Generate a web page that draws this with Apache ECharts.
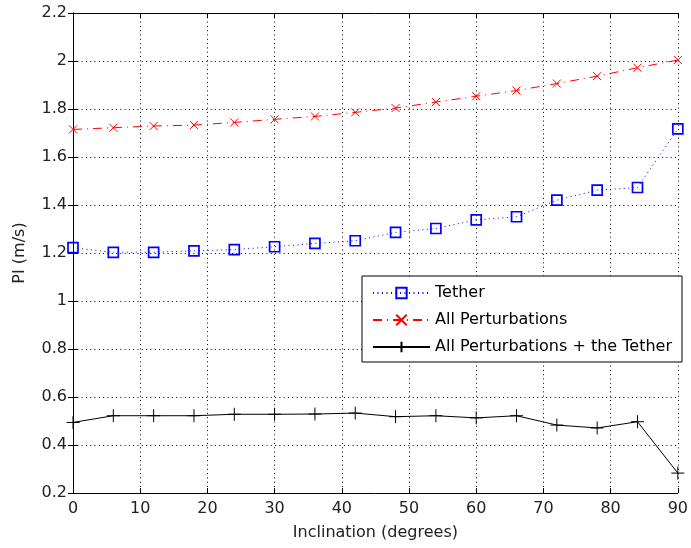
<!DOCTYPE html>
<html>
<head>
<meta charset="utf-8">
<script src="https://cdn.jsdelivr.net/npm/echarts@6/dist/echarts.min.js"></script>
<style>html,body{margin:0;padding:0;background:#fff;}#c{width:691px;height:548px;}</style>
</head>
<body>
<div id="c"></div>
<script>
var inclination = [0, 6, 12, 18, 24, 30, 36, 42, 48, 54, 60, 66, 72, 78, 84, 90];
var tether = [1.222, 1.203, 1.203, 1.209, 1.214, 1.226, 1.240, 1.251, 1.286, 1.302, 1.338, 1.351, 1.420, 1.462, 1.473, 1.717];
var allPert = [1.715, 1.722, 1.729, 1.733, 1.744, 1.757, 1.769, 1.786, 1.804, 1.829, 1.853, 1.877, 1.906, 1.937, 1.972, 2.004];
var allPertTether = [0.494, 0.522, 0.522, 0.522, 0.528, 0.528, 0.529, 0.533, 0.518, 0.522, 0.513, 0.522, 0.483, 0.471, 0.497, 0.283];
var seriesNames = ['Tether', 'All Perturbations', 'All Perturbations + the Tether'];

function pairs(ys) { return inclination.map(function (x, i) { return [x, ys[i]]; }); }

var font = 'DejaVu Sans, sans-serif';
var fs = 16;
var tickColor = '#222';
var chart = echarts.init(document.getElementById('c'), null, { renderer: 'canvas' });
var xCommon = {
  type: 'value', min: 0, max: 90, interval: 10,
  axisLine: { show: true, lineStyle: { color: '#000', width: 1 } },
  axisTick: { show: true, inside: true, length: 5, lineStyle: { color: '#000' } }
};
var yCommon = {
  type: 'value', min: 0.2, max: 2.2, interval: 0.2,
  axisLine: { show: true, lineStyle: { color: '#000', width: 1 } },
  axisTick: { show: true, inside: true, length: 5, lineStyle: { color: '#000' } }
};
var option = {
  backgroundColor: '#fff',
  animation: false,
  grid: { left: 73, right: 9, top: 13, bottom: 55, containLabel: false },
  legend: {
    orient: 'vertical', right: 9, top: 276,
    backgroundColor: '#fff',
    borderColor: '#000', borderWidth: 1, borderRadius: 0,
    padding: [9, 10, 7, 10],
    itemWidth: 57, itemHeight: 13, itemGap: 11,
    textStyle: { fontFamily: font, fontSize: fs, color: '#000' },
    data: seriesNames
  },
  xAxis: [
    Object.assign({}, xCommon, {
      position: 'bottom',
      name: 'Inclination (degrees)', nameLocation: 'middle', nameGap: 32,
      nameTextStyle: { fontFamily: font, fontSize: fs, color: tickColor },
      axisLabel: { margin: 8, fontFamily: font, fontSize: fs, color: tickColor },
      splitLine: { show: true, lineStyle: { color: '#000', type: [1, 3.3], width: 1 } }
    }),
    Object.assign({}, xCommon, {
      position: 'top', axisLabel: { show: false }, splitLine: { show: false }
    })
  ],
  yAxis: [
    Object.assign({}, yCommon, {
      position: 'left',
      name: 'PI (m/s)', nameLocation: 'middle', nameGap: 45, nameRotate: 90,
      nameTextStyle: { fontFamily: font, fontSize: fs, color: tickColor },
      axisLabel: {
        margin: 6, fontFamily: font, fontSize: fs, color: tickColor,
        formatter: function (v) { return String(parseFloat(v.toFixed(1))); }
      },
      splitLine: { show: true, lineStyle: { color: '#000', type: [1, 3.3], width: 1 } }
    }),
    Object.assign({}, yCommon, {
      position: 'right', axisLabel: { show: false }, splitLine: { show: false }
    })
  ],
  series: [
    {
      name: seriesNames[0], type: 'line', data: pairs(tether),
      symbol: 'rect', symbolSize: 10, showAllSymbol: true,
      itemStyle: { color: 'rgba(255,255,255,0)', borderColor: '#0000ff', borderWidth: 1.7 },
      lineStyle: { color: '#0000ff', width: 1, type: [1, 3.5] },
      z: 3
    },
    {
      name: seriesNames[1], type: 'line', data: pairs(allPert),
      symbol: 'path://M0,0L10,10M10,0L0,10', symbolSize: 8,
      itemStyle: { color: 'none', borderColor: '#ff0000', borderWidth: 1 },
      lineStyle: { color: '#ff0000', width: 1, type: [9, 5, 1, 5] },
      z: 3
    },
    {
      name: seriesNames[2], type: 'line', data: pairs(allPertTether),
      symbol: 'path://M5,0L5,10M0,5L10,5', symbolSize: 13,
      itemStyle: { color: 'none', borderColor: '#000', borderWidth: 1 },
      lineStyle: { color: '#000', width: 1, type: 'solid' },
      z: 3
    }
  ]
};
chart.setOption(option);
</script>
</body>
</html>
